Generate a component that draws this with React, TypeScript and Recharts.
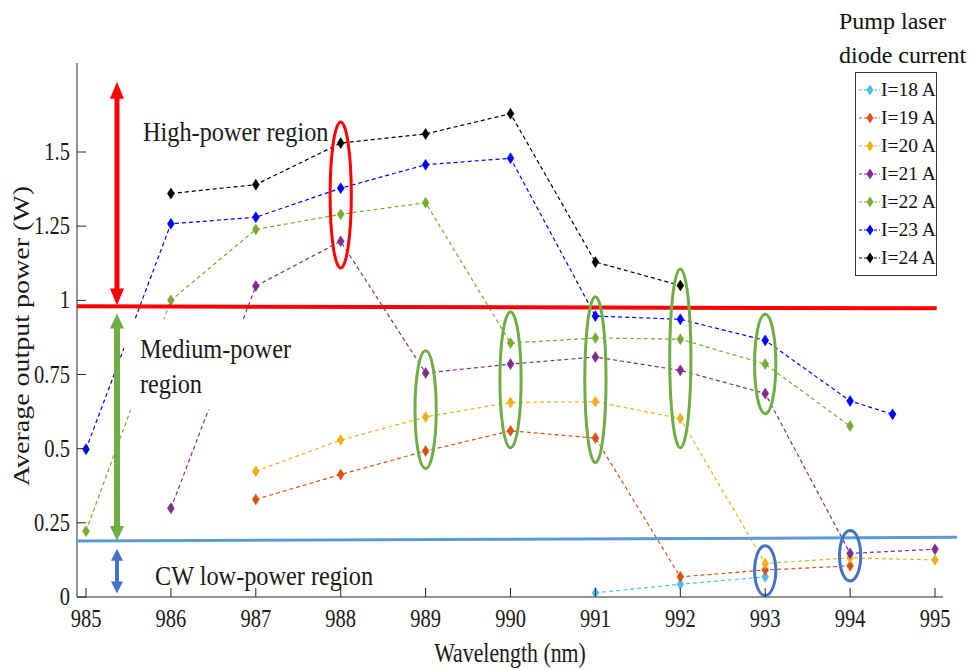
import { LineChart, Line, XAxis, YAxis, Legend, ReferenceLine, ReferenceArea, ReferenceDot, Label } from 'recharts';

const FONT = '"Liberation Serif", "Times New Roman", serif';

// wavelength (nm) and average output power (W) per pump current
const x18 = [991, 992, 993];
const p18 = [0.014, 0.043, 0.068];
const x19 = [987, 988, 989, 990, 991, 992, 993, 994];
const p19 = [0.329, 0.413, 0.492, 0.56, 0.536, 0.068, 0.091, 0.105];
const x20 = [987, 988, 989, 990, 991, 992, 993, 994, 995];
const p20 = [0.424, 0.529, 0.607, 0.656, 0.658, 0.602, 0.113, 0.132, 0.125];
const x21 = [986, 987, 988, 989, 990, 991, 992, 993, 994, 995];
const p21 = [0.299, 1.048, 1.199, 0.755, 0.785, 0.809, 0.764, 0.686, 0.147, 0.161];
const x22 = [985, 986, 987, 988, 989, 990, 991, 992, 993, 994];
const p22 = [0.222, 1.0, 1.239, 1.29, 1.329, 0.856, 0.873, 0.869, 0.785, 0.576];
const x23 = [985, 986, 987, 988, 989, 990, 991, 992, 993, 994, 994.5];
const p23 = [0.498, 1.258, 1.28, 1.378, 1.457, 1.479, 0.947, 0.936, 0.865, 0.661, 0.616];
const x24 = [986, 987, 988, 989, 990, 991, 992];
const p24 = [1.36, 1.39, 1.53, 1.561, 1.629, 1.129, 1.05];

const names = ['I=18 A', 'I=19 A', 'I=20 A', 'I=21 A', 'I=22 A', 'I=23 A', 'I=24 A'];
const colors = ['#4DBEEE', '#D95319', '#EDB120', '#7E2F8E', '#77AC30', '#0000FF', '#000000'];
const xs = [x18, x19, x20, x21, x22, x23, x24];
const ps = [p18, p19, p20, p21, p22, p23, p24];

const xTicks = [985, 986, 987, 988, 989, 990, 991, 992, 993, 994, 995];
const yTicks = [0, 0.25, 0.5, 0.75, 1, 1.25, 1.5];

// annotation ellipses: wavelength, low/high power extent
const rings = [
  { x: 988, lo: 1.109, hi: 1.601, c: '#FF0000' },
  { x: 989, lo: 0.433, hi: 0.83, c: '#70AD47' },
  { x: 990, lo: 0.503, hi: 0.961, c: '#70AD47' },
  { x: 991, lo: 0.453, hi: 1.012, c: '#70AD47' },
  { x: 992, lo: 0.503, hi: 1.106, c: '#70AD47' },
  { x: 993, lo: 0.618, hi: 0.953, c: '#70AD47' },
  { x: 993, lo: 0.005, hi: 0.173, c: '#4472C4' },
  { x: 994, lo: 0.054, hi: 0.224, c: '#4472C4' },
];

const SText = ({ x, y, size, sx, anchor = 'start', rotate = false, children }: any) => (
  <text
    transform={`translate(${x},${y}) scale(${sx},1)${rotate ? ' rotate(-90)' : ''}`}
    textAnchor={anchor}
    fontSize={size}
    fontFamily={FONT}
    fill="#1a1a1a"
  >
    {children}
  </text>
);

const diamond = (color: string) => (props: any) => {
  const { cx, cy, index } = props;
  if (cx == null || cy == null) return <g key={index} />;
  return (
    <polygon
      key={index}
      points={`${cx},${cy - 5.5} ${cx + 3.5},${cy} ${cx},${cy + 5.5} ${cx - 3.5},${cy}`}
      fill={color}
      stroke={color}
      strokeWidth={0.5}
    />
  );
};

const YTick = (props: any) => {
  const { x, y, payload } = props;
  return (
    <g>
      <line x1={x} y1={y} x2={x + 9} y2={y} stroke="#262626" />
      <SText x={x - 7} y={y + 8} size={25} sx={0.82} anchor="end">{String(payload.value)}</SText>
    </g>
  );
};

const XTick = (props: any) => {
  const { x, y, payload } = props;
  return (
    <g>
      <line x1={x} y1={y} x2={x} y2={y - 9} stroke="#262626" />
      <SText x={x} y={y + 30} size={25} sx={0.82} anchor="middle">{String(payload.value)}</SText>
    </g>
  );
};

const ring = (color: string) => (props: any) => {
  const { x, y, width, height } = props;
  return (
    <ellipse cx={x + width / 2} cy={y + height / 2} rx={Math.abs(width) / 2} ry={Math.abs(height) / 2}
      fill="none" stroke={color} strokeWidth={3} />
  );
};

const arrow = (color: string, w: number, head: number, half: number) => (props: any) => {
  const { x1, y1, y2 } = props;
  const top = Math.min(y1, y2);
  const bot = Math.max(y1, y2);
  return (
    <g>
      <line x1={x1} y1={top + head - 1} x2={x1} y2={bot - head + 1} stroke={color} strokeWidth={w} />
      <polygon points={`${x1},${top} ${x1 - half},${top + head} ${x1 + half},${top + head}`} fill={color} />
      <polygon points={`${x1},${bot} ${x1 - half},${bot - head} ${x1 + half},${bot - head}`} fill={color} />
    </g>
  );
};

const note = (lines: string[]) => (props: any) => {
  const { cx, cy } = props;
  return (
    <g>
      {lines.map((t, i) => (
        <SText key={t} x={cx} y={cy + i * 35} size={27} sx={0.9}>{t}</SText>
      ))}
    </g>
  );
};

const LegendBox = ({ payload }: any) => (
  <div style={{ fontFamily: FONT, color: '#111' }}>
    <div style={{ fontSize: 24, lineHeight: '34px', paddingTop: 4, whiteSpace: 'nowrap' }}>
      Pump laser<br />diode current
    </div>
    <div style={{ marginLeft: 16, width: 80, border: '1px solid #333', padding: '3px 0', background: '#fff' }}>
      {(payload || []).map((e: any) => (
        <div key={e.value} style={{ display: 'flex', alignItems: 'center', height: 28 }}>
          <svg width={25} height={28} style={{ flex: 'none' }}>
            <line x1={3} x2={24} y1={14} y2={14} stroke={e.color} strokeDasharray="3 2" />
            <polygon points="14,8.5 17.5,14 14,19.5 10.5,14" fill={e.color} />
          </svg>
          <span style={{ fontSize: 19.5, lineHeight: '28px', whiteSpace: 'nowrap' }}>{e.value}</span>
        </div>
      ))}
    </div>
  </div>
);

export default function App() {
  return (
    <div style={{ position: 'absolute', left: 0, top: 0, width: 972, height: 670, background: '#fff' }}>
      <LineChart width={972} height={670} margin={{ top: 63, right: 29, bottom: 0, left: 0 }}>
        <XAxis
          type="number"
          dataKey="w"
          domain={[984.894, 995.094]}
          ticks={xTicks}
          allowDataOverflow
          height={73}
          tickSize={0}
          tickMargin={0}
          tickLine={false}
          tick={<XTick />}
          axisLine={{ stroke: '#262626' }}
        >
          <Label
            content={(p: any) => {
              const vb = p.viewBox || { x: 77, y: 597, width: 866 };
              return <SText x={vb.x + vb.width / 2} y={vb.y + 65} size={27} sx={0.81} anchor="middle">Wavelength (nm)</SText>;
            }}
          />
        </XAxis>
        <YAxis
          type="number"
          domain={[0, 1.8]}
          ticks={yTicks}
          allowDataOverflow
          width={77}
          tickSize={0}
          tickMargin={0}
          tickLine={false}
          tick={<YTick />}
          axisLine={{ stroke: '#262626' }}
        >
          <Label
            content={(p: any) => {
              const vb = p.viewBox || { x: 0, y: 63, height: 534 };
              return <SText x={29} y={vb.y + vb.height / 2 + 6} size={28} sx={0.81} anchor="middle" rotate>Average output power (W)</SText>;
            }}
          />
        </YAxis>
        <Legend
          layout="horizontal"
          verticalAlign="middle"
          align="center"
          wrapperStyle={{ left: 839, top: 0, width: 133, height: 280 }}
          content={<LegendBox />}
        />
        {names.map((n, k) => (
          <Line
            key={n}
            name={n}
            data={xs[k].map((w, i) => ({ w, p: ps[k][i] }))}
            dataKey="p"
            type="linear"
            stroke={colors[k]}
            strokeWidth={1.2}
            strokeDasharray="4 3"
            dot={diamond(colors[k])}
            activeDot={false}
            isAnimationActive={false}
          />
        ))}
        <ReferenceArea x1={985.45} x2={987.55} y1={0.632} y2={0.937} fill="#fff" fillOpacity={1} stroke="none" ifOverflow="visible" zIndex={1500} />
        <ReferenceLine segment={[{ x: 984.894, y: 0.98 }, { x: 995.02, y: 0.973 }]} stroke="#FF0000" strokeWidth={4} ifOverflow="visible" zIndex={1600} />
        <ReferenceLine segment={[{ x: 984.894, y: 0.1886 }, { x: 995.26, y: 0.201 }]} stroke="#5B9BD5" strokeWidth={3} ifOverflow="visible" zIndex={1600} />
        <ReferenceLine segment={[{ x: 985.365, y: 1.737 }, { x: 985.365, y: 0.983 }]} shape={arrow('#FF0000', 5, 17, 7)} ifOverflow="visible" zIndex={1700} />
        <ReferenceLine segment={[{ x: 985.365, y: 0.956 }, { x: 985.365, y: 0.189 }]} shape={arrow('#70AD47', 6, 15, 7)} ifOverflow="visible" zIndex={1700} />
        <ReferenceLine segment={[{ x: 985.365, y: 0.163 }, { x: 985.365, y: 0.012 }]} shape={arrow('#4472C4', 4, 12, 6)} ifOverflow="visible" zIndex={1700} />
        {rings.map((r, i) => (
          <ReferenceArea key={i} x1={r.x - 0.125} x2={r.x + 0.125} y1={r.lo} y2={r.hi} shape={ring(r.c)} ifOverflow="visible" zIndex={1700} />
        ))}
        <ReferenceDot x={985.671} y={1.5387} r={0} shape={note(['High-power region'])} ifOverflow="visible" zIndex={1800} />
        <ReferenceDot x={985.635} y={0.8047} r={0} shape={note(['Medium-power', 'region'])} ifOverflow="visible" zIndex={1800} />
        <ReferenceDot x={985.812} y={0.0404} r={0} shape={note(['CW low-power region'])} ifOverflow="visible" zIndex={1800} />
      </LineChart>
    </div>
  );
}
